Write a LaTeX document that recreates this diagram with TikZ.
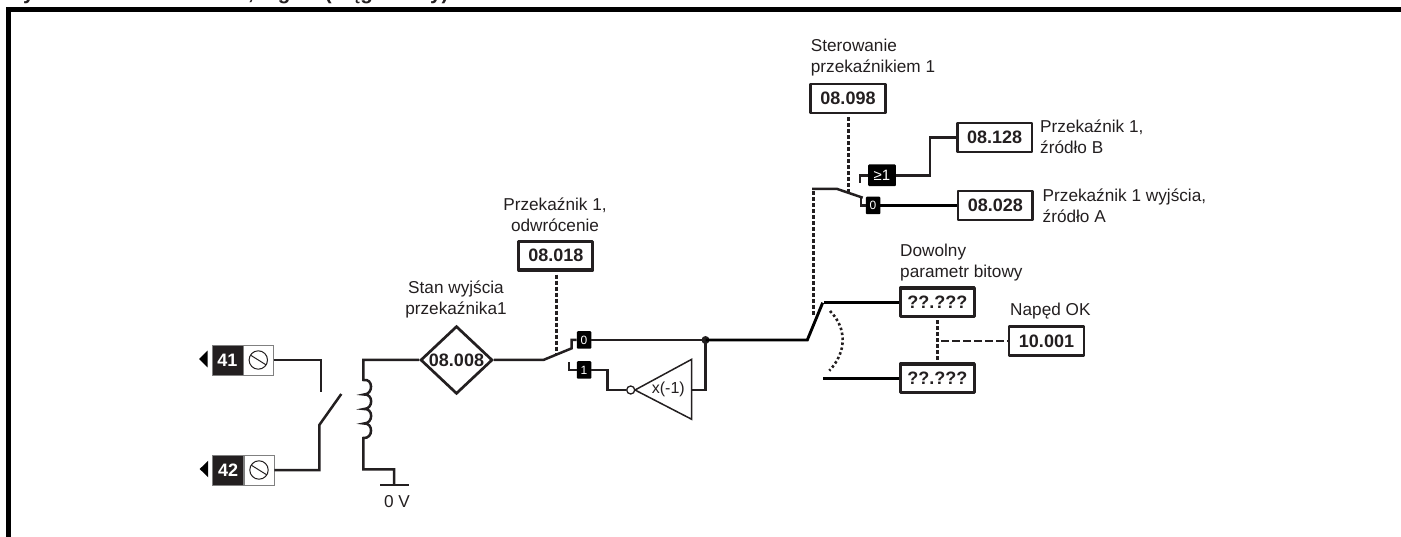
\documentclass[tikz,border=0pt]{standalone}
\usepackage{fontspec}
\setmainfont{Liberation Sans}
\usetikzlibrary{shapes.geometric,calc}
\definecolor{ink}{HTML}{231F20}
\tikzset{
  lbl/.style={inner sep=0pt,font=\fontsize{17.2}{21}\selectfont,text=ink,align=left},
  lblc/.style={lbl,align=center},
  wire/.style={draw=ink,line width=2.5pt,line join=miter},
  ctl/.style={draw=ink,line width=2.9pt,dash pattern=on 4pt off 2pt},
  dashline/.style={draw=ink,line width=2.7pt,dash pattern=on 8pt off 3pt},
  pbox/.style={draw=ink,line width=2.7pt,fill=white,minimum width=74.5pt,minimum height=29pt,inner sep=0pt,font=\fontsize{18}{20}\selectfont\bfseries,text=ink,line join=round},
  pboxh/.style={pbox,line width=3.2pt,minimum width=74pt,minimum height=28.5pt},
  tag/.style={fill=black,text=white,inner sep=0pt,minimum width=14.5pt,minimum height=17.5pt,rounded corners=1pt,font=\fontsize{12}{14}\selectfont},
  termnum/.style={fill=ink,text=white,draw=gray,line width=.8pt,minimum width=31pt,minimum height=30pt,inner sep=0pt,font=\fontsize{18}{20}\selectfont\bfseries},
  termscrew/.style={fill=white,draw=gray,line width=.8pt,minimum width=30pt,minimum height=30pt,inner sep=0pt},
  screw/.style={draw=ink,line width=1pt},
  head/.style={inner sep=0pt,anchor=base west,font=\fontsize{20.6}{22}\selectfont\bfseries,text=ink},
}
\begin{document}
\begin{tikzpicture}[x=1pt,y=-1pt]
\useasboundingbox (0,0) rectangle (1401,537);
% clipped heading
\begin{scope}
\clip (0,0) rectangle (1401,7);
\node[head] (h1) at (8,-0.5) {Rysunek};
\node[head] (h2) at (248,-0.5) {, logika (ciąg dalszy)};
\end{scope}
% frame
\draw[black,line width=5pt] (8.5,537) -- (8.5,9.5) -- (1401,9.5);
% terminals
\node[termnum] (t41) at (227.5,360) {41};
\node[termscrew] (s41) at (258.3,360) {};
\node[termnum] (t42) at (228.2,470) {42};
\node[termscrew] (s42) at (259,470) {};
\foreach \n in {s41,s42}{
  \draw[screw] (\n) circle (9.2pt);
  \draw[screw] ($(\n)+(-8,-5)$) -- ($(\n)+(8,5)$);
}
\fill[black] (199,359) -- (207.5,350.7) -- (207.5,367.3) -- cycle;
\fill[black] (199.7,469) -- (208.2,460.7) -- (208.2,477.3) -- cycle;
% relay contact
\coordinate (c1) at (321,392);
\coordinate (c2) at (319.3,425);
\coordinate (c3) at (341.3,394);
\draw[wire] (s41.east) -| (c1);
\draw[wire] (s42.east) -| (c2) -- (c3);
% parameters
\node[draw=ink,line width=2.7pt,fill=white,diamond,shape aspect=1,minimum width=72pt,inner sep=0pt,font=\fontsize{18}{20}\selectfont\bfseries,text=ink] (d8) at (456.5,360) {08.008};
\node[pboxh] (p18) at (555.8,255.8) {08.018};
\node[pbox] (p98) at (848,98.5) {08.098};
\node[pbox] (p128) at (994.7,137.5) {08.128};
\node[pbox] (p28) at (995.3,205.5) {08.028};
\node[pboxh] (q1) at (937.3,302.3) {??.???};
\node[pboxh] (q2) at (937.3,378.3) {??.???};
\node[pbox,line width=2.2pt] (p10) at (1046.5,341) {10.001};
% coil and ground
\coordinate (cl0) at (363.3,380);
\coordinate (cl1) at (363.3,438);
\coordinate (g0) at (394,485);
\coordinate (gl) at (380,485);
\coordinate (gr) at (408.7,485);
\draw[wire] (d8.west) -| (cl0)
  .. controls (373.5,378) and (373.5,394.5) .. (364,394.5)
  .. controls (373.5,393.5) and (373.5,409) .. (364,409)
  .. controls (373.5,408) and (373.5,423.5) .. (364,423.5)
  .. controls (373.5,422.5) and (373.5,439) .. (cl1)
  |- (394,469.3) -- (g0);
\draw[wire,line width=2.8pt] (gl) -- (gr);
\node[lbl] (zv) at (397,501.7) {0 V};
% polarity switch
\node[tag] (t0) at (584,340) {0};
\node[tag] (t1) at (584,370) {1};
\coordinate (sw0) at (543.3,360);
\coordinate (sw1) at (571.7,348.3);
\coordinate (sw2) at (571.7,340);
\coordinate (k1) at (569,362.3);
\coordinate (k2) at (569,370);
\draw[wire] (d8.east) -- (sw0) -- (sw1) -- (sw2) -- (t0.west);
\draw[wire] (k1) -- (k2) -- (t1.west);
\draw[ctl] (p18.south)++(0.5,3) -- (556.3,355);
% inverter
\coordinate (apex) at (635,390);
\coordinate (tr1) at (691.7,359.3);
\coordinate (tr2) at (691.7,419.3);
\draw[draw=ink,line width=1.5pt,fill=white,line join=miter] (apex) -- (tr1) -- (tr2) -- cycle;
\node[inner sep=0pt,font=\fontsize{16}{18}\selectfont,text=ink] (xm) at (668.3,389) {x(-1)};
\node[circle,draw=ink,line width=1.3pt,fill=white,minimum size=8pt,inner sep=0pt] (bub) at (630.7,390) {};
\coordinate (mid) at (607.7,370);
\coordinate (j) at (705.5,340);
\coordinate (out) at (691.7,390);
\draw[wire] (t1.east) -| (mid) |- (bub.west);
\draw[wire] (out) -| (j);
\draw[wire] (t0.east) -- (j);
\fill[ink] (j) circle (4pt);
% main contact
\coordinate (m0) at (807.3,340);
\coordinate (m1) at (822.7,302.7);
\coordinate (m2) at (824.3,302.3);
\coordinate (m3) at (823.3,378.3);
\draw[black,line width=2.9pt] (j) -- (m0) -- (m1);
\draw[black,line width=2.9pt] (m2) -- (q1.west);
\draw[black,line width=2.9pt] (m3) -- (q2.west);
\draw[ink,line width=2.6pt,dash pattern=on 2.5pt off 2.5pt] (830,311) .. controls (847,328) and (847,352) .. (829.3,370.7);
\draw[ctl] (q1.south)++(0,2) -- (q2.north);
\coordinate (dj) at (941,341);
\draw[dashline] (dj) -- (p10.west);
% output selector
\coordinate (v0) at (813.3,315);
\coordinate (v1) at (813.3,189);
\coordinate (a0) at (837.3,189);
\coordinate (a1) at (862.7,197.7);
\coordinate (a2) at (861,205.5);
\node[tag] (t00) at (873,205.5) {0};
\node[tag,minimum width=27.7pt,minimum height=21.7pt,font=\fontsize{15}{16}\selectfont] (tge) at (882,175.3) {≥1};
\draw[ctl] (v0) -- (813.3,191);
\draw[wire] (812.2,189) -- (a0) -- (a1);
\draw[wire] (861,196.8) -- (a2) -- (t00.west);
\draw[black,line width=2.9pt] (t00.east) -- (p28.west);
\coordinate (b0) at (860,182.7);
\coordinate (b1) at (860,175.3);
\draw[wire] (b0) -- (b1) -- (tge.west);
\coordinate (b2) at (930,175.3);
\coordinate (b3) at (930,137.5);
\draw[wire] (tge.east) -- (b2) -- (b3) -- (p128.west);
\draw[ctl] (p98.south)++(0.3,3) -- (848.3,191.7);
% labels
\node[lblc] (l1) at (456,299) {Stan wyjścia\\przekaźnika1};
\node[lblc] (l2) at (555,214.5) {Przekaźnik 1,\\odwrócenie};
\node[lbl,anchor=west] (l3) at (810.7,57.5) {Sterowanie\\przekaźnikiem 1};
\node[lbl,anchor=west] (l4) at (1040,136.5) {Przekaźnik 1,\\źródło B};
\node[lbl,anchor=west] (l5) at (1042.5,205.5) {Przekaźnik 1 wyjścia,\\źródło A};
\node[lbl,anchor=west] (l6) at (900,263) {Dowolny\\parametr bitowy};
\node[lbl,anchor=west] (l7) at (1010,310.7) {Napęd OK};
\end{tikzpicture}
\end{document}
